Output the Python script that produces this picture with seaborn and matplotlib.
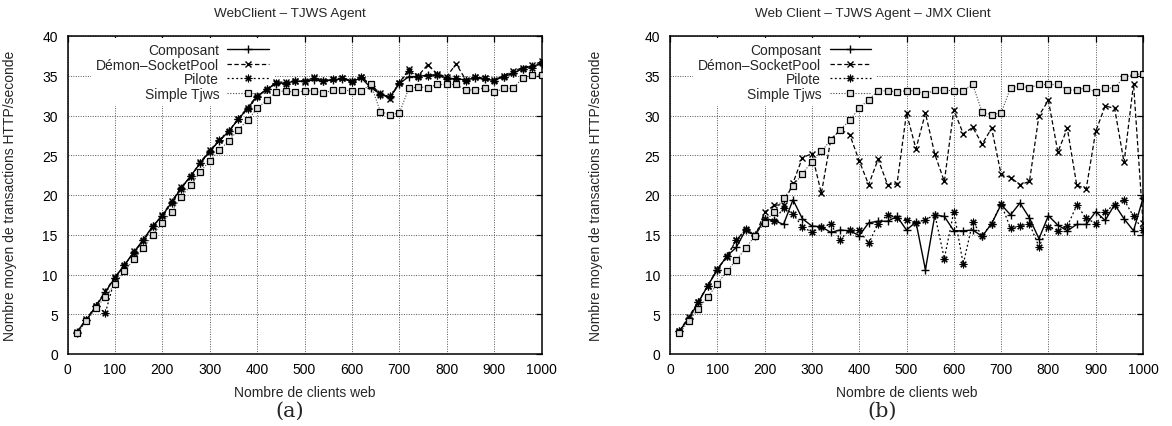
import matplotlib
matplotlib.use("Agg")
import matplotlib.pyplot as plt
import pandas as pd
import seaborn as sns

# ---------------- data ----------------
clients = list(range(20, 1001, 20))

series_names = ["Composant", "Démon\u2013SocketPool", "Pilote", "Simple Tjws"]

composant_a = [2.8, 4.3, 6.0, 7.8, 9.6, 11.2, 12.8, 14.4, 16.1, 17.4,
               19.1, 20.9, 22.4, 24.0, 25.5, 26.8, 28.0, 29.5, 30.9, 32.4,
               33.3, 34.0, 34.1, 34.3, 34.3, 34.5, 34.3, 34.5, 34.6, 34.3,
               34.7, 33.5, 32.7, 32.3, 34.0, 34.9, 34.9, 35.1, 35.1, 34.7,
               34.6, 34.5, 34.7, 34.6, 34.4, 34.9, 35.3, 35.9, 36.2, 36.5]
demon_a = [2.8, 4.4, 6.1, 7.9, 9.7, 11.1, 12.9, 14.2, 16.0, 17.5,
           19.2, 21.0, 22.3, 24.1, 25.6, 26.9, 27.9, 29.6, 31.0, 32.5,
           33.2, 34.2, 34.2, 34.4, 34.2, 34.8, 34.4, 34.6, 34.7, 34.4,
           34.9, 33.8, 32.8, 32.1, 34.1, 35.8, 35.0, 36.4, 35.2, 34.9,
           36.5, 34.5, 34.8, 34.7, 34.5, 35.0, 35.6, 36.0, 36.3, 36.8]
pilote_a = [2.7, 4.3, 6.0, 5.2, 9.5, 11.2, 12.7, 14.3, 16.1, 17.3,
            19.0, 20.8, 22.4, 24.0, 25.4, 26.9, 28.1, 29.5, 30.8, 32.3,
            33.3, 34.1, 34.0, 34.3, 34.4, 34.7, 34.3, 34.6, 34.7, 34.2,
            34.9, 33.7, 32.6, 32.4, 34.1, 35.6, 34.9, 35.0, 35.1, 34.6,
            34.7, 34.4, 34.8, 34.7, 34.4, 34.8, 35.3, 35.9, 36.0, 36.6]
simple_a = [2.6, 4.1, 5.8, 7.2, 8.8, 10.4, 11.9, 13.3, 15.0, 16.5,
            17.9, 19.8, 21.2, 22.9, 24.3, 25.6, 26.8, 28.2, 29.4, 30.9,
            31.9, 33.0, 33.1, 32.9, 33.1, 33.1, 32.8, 33.2, 33.2, 33.1,
            33.1, 33.9, 30.5, 30.1, 30.3, 33.4, 33.6, 33.5, 33.9, 33.9,
            33.9, 33.2, 33.2, 33.5, 32.9, 33.4, 33.4, 34.7, 35.1, 35.1]

composant_b = [2.9, 4.5, 6.5, 8.6, 10.6, 12.3, 13.4, 15.6, 14.9, 17.0,
               16.8, 16.3, 19.4, 17.0, 16.1, 16.0, 15.3, 15.6, 15.5, 14.9,
               16.5, 16.7, 16.7, 17.3, 15.6, 16.6, 10.6, 17.5, 17.3, 15.5,
               15.5, 15.6, 14.8, 16.4, 18.8, 17.5, 19.0, 17.1, 14.5, 17.4,
               16.2, 15.5, 16.3, 16.3, 17.9, 16.8, 18.8, 17.0, 15.5, 19.6]
demon_b = [2.9, 4.7, 6.6, 8.6, 10.7, 12.2, 14.3, 15.6, 14.8, 17.8,
           18.7, 18.8, 21.5, 24.7, 25.2, 20.2, 27.0, 28.2, 27.6, 24.3,
           21.3, 24.5, 21.3, 21.4, 30.3, 25.8, 30.3, 25.1, 21.7, 30.7,
           27.7, 28.5, 26.4, 28.4, 22.6, 22.2, 21.3, 21.7, 30.0, 31.9,
           25.4, 28.4, 21.2, 20.8, 28.0, 31.2, 30.9, 24.1, 34.0, 16.5]
pilote_b = [2.9, 4.4, 6.5, 8.6, 10.6, 12.3, 14.3, 15.7, 15.0, 17.0,
            16.7, 18.4, 17.6, 16.0, 15.3, 16.0, 16.3, 14.4, 15.6, 15.6,
            13.9, 16.4, 17.5, 17.1, 16.9, 16.5, 16.9, 17.5, 12.0, 17.9,
            11.3, 16.6, 14.9, 16.4, 18.9, 15.8, 16.1, 16.4, 13.5, 16.0,
            15.5, 16.1, 18.7, 17.1, 16.4, 17.9, 18.8, 19.4, 17.3, 15.6]
simple_b = [2.6, 4.2, 5.7, 7.2, 8.8, 10.4, 11.8, 13.3, 14.9, 16.5,
            17.9, 19.6, 21.1, 22.7, 24.2, 25.5, 26.9, 28.2, 29.4, 30.9,
            32.0, 33.1, 33.1, 33.0, 33.1, 33.1, 32.7, 33.2, 33.2, 33.1,
            33.1, 33.9, 30.4, 30.1, 30.3, 33.5, 33.7, 33.5, 33.9, 33.9,
            33.9, 33.2, 33.2, 33.5, 32.9, 33.4, 33.5, 34.8, 35.2, 35.2]

titles = ["WebClient \u2013 TJWS Agent", "Web Client \u2013 TJWS Agent \u2013 JMX Client"]
captions = ["(a)", "(b)"]
xlabel = "Nombre de clients web"
ylabel = "Nombre moyen de transactions HTTP/seconde"
xticks = list(range(0, 1001, 100))
yticks = list(range(0, 41, 5))

# ---------------- style ----------------
sns.set_style("white")
plt.rcParams['font.family'] = ['Liberation Sans', 'DejaVu Sans']

styles = [
    dict(linestyle='-', marker='+', markersize=6, linewidth=1.0, color='black',
         markeredgecolor='black', markeredgewidth=1.0),
    dict(linestyle=(0, (3.5, 2)), marker='x', markersize=4.2, linewidth=0.9, color='black',
         markeredgecolor='black', markeredgewidth=1.0),
    dict(linestyle=(0, (1.5, 2)), marker=(8, 2, 0), markersize=5.5, linewidth=0.9, color='black',
         markeredgecolor='black', markeredgewidth=0.8),
    dict(linestyle=(0, (1, 1.5)), marker='s', markersize=4.6, linewidth=0.8, color='#444444',
         markeredgecolor='black', markerfacecolor='#dcdcdc', markeredgewidth=0.9),
]

W, H = 1172, 427
fig = plt.figure(figsize=(W / 100, H / 100), dpi=100)
ax_a = fig.add_axes([67.5 / W, 72 / H, 474 / W, 318 / H])
ax_b = fig.add_axes([670 / W, 72 / H, 473 / W, 318 / H])

panels = [
    (ax_a, [composant_a, demon_a, pilote_a, simple_a], 67.5, 474, 290, 17),
    (ax_b, [composant_b, demon_b, pilote_b, simple_b], 670, 473, 873, 603),
]

FS = 10
for k, (ax, vals, x0, w, tcx, ylab_x) in enumerate(panels):
    df = pd.DataFrame({"clients": clients})
    for name, v, st in zip(series_names, vals, styles):
        sns.lineplot(x=df["clients"], y=v, ax=ax, label=name, zorder=3, **st)
    ax.set_xlim(0, 1000)
    ax.set_ylim(0, 40)
    ax.set_xticks(xticks)
    ax.set_yticks(yticks)
    ax.grid(True, linestyle=(0, (1, 1.5)), color='#555555', linewidth=0.7)
    ax.set_axisbelow(True)
    for sp in ax.spines.values():
        sp.set_linewidth(1.1)
        sp.set_color('black')
    ax.tick_params(direction='in', top=True, right=True, length=4.5, width=0.9,
                   labelsize=FS, colors='black')
    ax.tick_params(axis='x', pad=6)
    ax.tick_params(axis='y', pad=7)
    ax.set_xlabel(xlabel, fontsize=FS)
    ax.set_ylabel(ylabel, fontsize=FS)
    ax.xaxis.set_label_coords(0.5, (355 - 386) / 318)
    ax.yaxis.set_label_coords((ylab_x - x0) / w, 0.5)
    leg = ax.legend(loc='upper right',
                    bbox_to_anchor=((274 - 67.5) / 474, (355 - 39) / 318),
                    markerfirst=False, frameon=True, fancybox=False,
                    edgecolor='none', facecolor='white', framealpha=1,
                    borderpad=0.35, handlelength=3.0, handletextpad=0.6,
                    labelspacing=0.05, fontsize=FS, borderaxespad=0, numpoints=1)
    leg.set_zorder(2.5)
    fig.text(tcx / W, 1 - 14 / H, titles[k], ha='center', va='center', fontsize=9.7)
    fig.text((290 if k == 0 else 882) / W, 1 - 411 / H, captions[k], ha='center',
             va='center', fontsize=15, family=['DejaVu Serif'])

fig.savefig("out.png", dpi=100)
